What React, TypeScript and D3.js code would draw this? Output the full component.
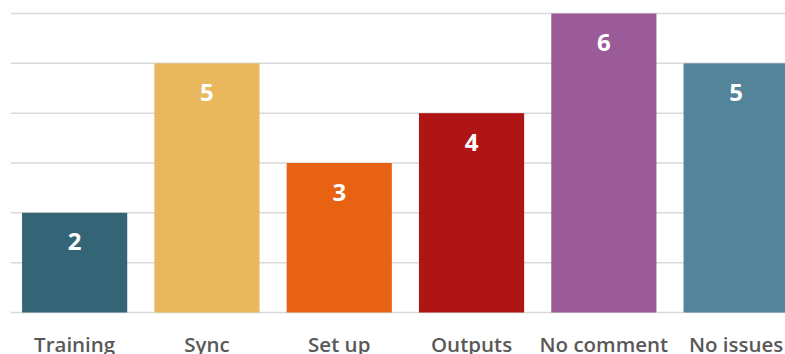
import React from "react";
import * as d3 from "d3";

const categories = ["Training", "Sync", "Set up", "Outputs", "No comment", "No issues"];
const values = [2, 5, 3, 4, 6, 5];
const barColors = ["#336577", "#E9B75E", "#E86213", "#AF1515", "#9B5B98", "#53849A"];
const gridTicks = [0, 1, 2, 3, 4, 5, 6];

const WIDTH = 785;
const HEIGHT = 354;

export default function App() {
  const x = d3
    .scaleBand<string>()
    .domain(categories)
    .range([8.5, 8.5 + 6 * 132.3])
    .paddingInner(0.205)
    .paddingOuter(0.1025);
  const y = d3.scaleLinear().domain([0, 6]).range([312.5, 13.5]);

  return (
    <svg
      width={WIDTH}
      height={HEIGHT}
      style={{ position: "fixed", left: 0, top: 0, background: "#fff" }}
      fontFamily="'Open Sans', sans-serif"
    >
      {gridTicks.map((t) => (
        <line
          key={t}
          x1={11}
          x2={WIDTH}
          y1={y(t)}
          y2={y(t)}
          stroke="#d9d9d9"
          strokeWidth={1.5}
        />
      ))}
      {categories.map((c, i) => {
        const bx = x(c)!;
        const top = y(values[i]);
        return (
          <g key={c}>
            <rect
              x={bx}
              y={top}
              width={x.bandwidth()}
              height={y(0) - top}
              fill={barColors[i]}
            />
            <text
              x={bx + x.bandwidth() / 2}
              y={top + 37.5}
              textAnchor="middle"
              fill="#fff"
              fontSize={24}
              fontWeight={700}
            >
              {values[i]}
            </text>
            <text
              x={bx + x.bandwidth() / 2}
              y={352}
              textAnchor="middle"
              fill="#595959"
              fontSize={20.5}
              fontWeight={600}
            >
              {c}
            </text>
          </g>
        );
      })}
    </svg>
  );
}
